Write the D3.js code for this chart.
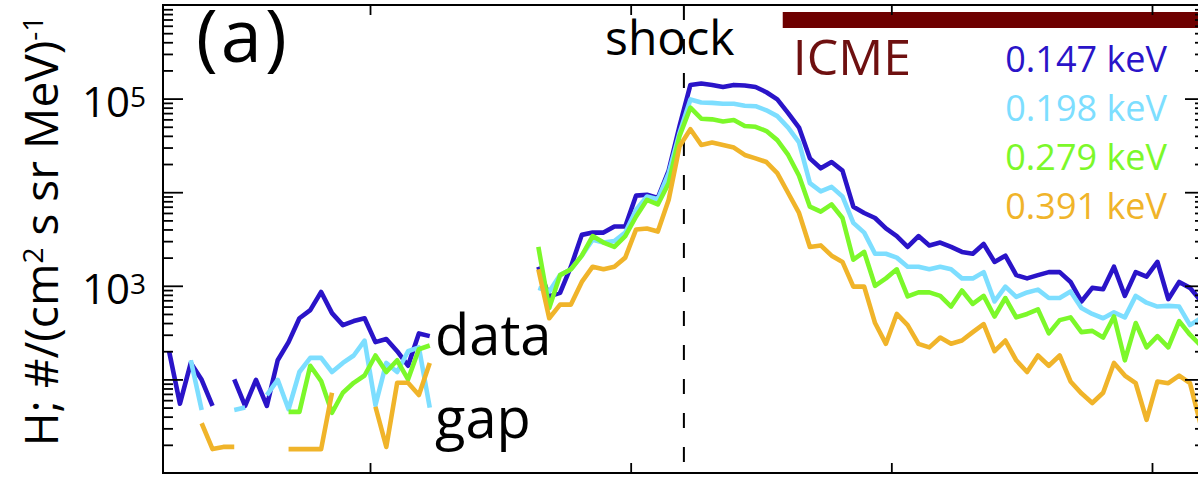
<!DOCTYPE html>
<html>
<head>
<meta charset="utf-8">
<script src="https://cdn.jsdelivr.net/npm/d3@7"></script>
<style>
  html, body { margin: 0; padding: 0; background: #fff; }
  svg { display: block; font-family: "Open Sans", "Noto Sans", sans-serif; }
</style>
</head>
<body>
<svg id="chart" width="1198" height="477"></svg>
<script>
// Hourly proton intensities, hour stamps counted from 00 UT of the first day
const hours = d3.range(5.5, 101, 1);   // 5.5 ... 100.5 (96 samples)

const flux147 = [200, 55, 150, 99, 52, null, 100, 52, 99, 52, 160, 250, 450, 550, 860, 510, 380, 420, 450, 250, 270, 200, 140, 310, 290,
  null, null, null, null, null, null, null, null, null,
  1600, 770, 840, 1600, 3500, 3700, 3700, 4300, 4300, 9200, 9400, 8700, 17000, 51000,
  140000, 145000, 140000, 133000, 140000, 138000, 133000, 117000, 98000, 70000, 49000, 23000, 18000, 21000, 17000,
  7000, 6000, 5300, 4100, 3400, 2600, 3400, 2700, 2900, 2600, 2300, 2200, 2800, 1800, 2100,
  1300, 1200, 1300, 1400, 1400, 1100, 680, 950, 920, 1600, 780, 1400, 1250, 1800, 720, 1100, 950, 690];

const flux198 = [null, null, 160, 47, null, null, 47, 50, null, 68, 99, 48, 120, 170, 170, 120, 150, 180, 260, 53, 150, 120, 200, 220, 50,
  null, null, null, null, null, null, null, null, null,
  950, 870, 1300, 1500, 2100, 3100, 2900, 3000, 3700, 6500, 9000, 8400, 16000, 43000,
  98000, 91000, 90000, 88000, 88000, 84000, 83000, 75000, 65000, 49000, 34000, 12500, 10200, 11400, 9000,
  4700, 3700, 2200, 2200, 2000, 1600, 1600, 1500, 1600, 1500, 1200, 1200, 1400, 680, 980,
  760, 850, 910, 740, 740, 870, 580, 500, 450, 520, 460, 780, 660, 600, 610, 600, 380, 450];

const flux279 = [null, null, null, null, null, null, null, null, null, null, null, 45, 45, 140, 96, 44, 72, 92, 110, 180, 120, 160, 100, 210, 230,
  null, null, null, null, null, null, null, null, null,
  2600, 580, 1300, 1500, 2100, 3400, 2900, 2600, 3400, 5500, 8300, 7400, 12500, 40000,
  80000, 61000, 60000, 57000, 59000, 51000, 50000, 45000, 36000, 25000, 15000, 7000, 6200, 7400, 5300,
  1900, 2300, 1000, 1200, 1500, 770, 850, 850, 780, 600, 890, 640, 780, 470, 740,
  460, 500, 560, 310, 430, 460, 320, 330, 280, 470, 160, 400, 220, 290, 220, 420, 300, 230];

const flux391 = [null, null, null, 34, 18, 19, 19, null, null, null, null, 18, 18, 18, 18, 72, null, null, null, 51, 19, 92, 92, 68, 150,
  null, null, null, null, null, null, null, null, null,
  1500, 450, 630, 630, 1100, 1600, 1500, 1600, 2000, 4000, 4100, 3800, 8300, 31000,
  47000, 32000, 34000, 32000, 30000, 25000, 23000, 21000, 16000, 9800, 6000, 2600, 2700, 2100, 1800,
  980, 980, 400, 240, 500, 380, 240, 220, 280, 240, 260, 320, 390, 200, 260,
  160, 120, 180, 140, 180, 95, 71, 56, 72, 150, 110, 91, 37, 95, 91, 110, 91, 32];

const channels = ["0.147 keV", "0.198 keV", "0.279 keV", "0.391 keV"];
const colors = ["#2a14c8", "#7ddeff", "#7cf82a", "#f0b42a"];
const seriesList = [flux147, flux198, flux279, flux391];

const shockHour = 52.9;
const icmeStartHour = 62.0;
const dayTicks = [24, 48, 72, 96];
const majorTicks = [1e2, 1e3, 1e4, 1e5];
const labelledTicks = [[1e3, "3"], [1e5, "5"]];
const minorTicks = [];
[10, 100, 1000, 10000, 100000].forEach(d => { for (let k = 2; k <= 9; k++) minorTicks.push(d * k); });

// ---- layout ----
const plotLeft = 163, plotRight = 1205, plotTop = 5, plotBottom = 473;
const svg = d3.select("#chart");

const x = d3.scaleLinear().domain([4.94, 100.88]).range([plotLeft, plotRight]);
const y = d3.scaleLog().domain([10, 1e6]).range([plotBottom, plotTop]);

svg.append("defs").append("clipPath").attr("id", "plotClip")
  .append("rect").attr("x", plotLeft).attr("y", plotTop)
  .attr("width", plotRight - plotLeft).attr("height", plotBottom - plotTop);

// ICME interval bar and label
svg.append("rect")
  .attr("x", x(icmeStartHour)).attr("y", 12)
  .attr("width", plotRight - x(icmeStartHour)).attr("height", 16)
  .attr("fill", "#6e0000");
svg.append("text").attr("x", x(icmeStartHour) + 10).attr("y", 75)
  .attr("font-size", 50).attr("fill", "#6e1010").text("ICME");

// shock time marker
svg.append("line")
  .attr("x1", x(shockHour)).attr("x2", x(shockHour))
  .attr("y1", plotTop).attr("y2", plotBottom)
  .attr("stroke", "#000").attr("stroke-width", 2)
  .attr("stroke-dasharray", "15,19");
svg.append("text").attr("x", 605).attr("y", 55)
  .attr("font-size", 48).attr("fill", "#000").text("shock");

// intensity traces
const line = d3.line()
  .defined(d => d[1] != null)
  .x(d => x(d[0]))
  .y(d => y(d[1]));

const traces = svg.append("g").attr("clip-path", "url(#plotClip)");
seriesList.forEach((s, i) => {
  traces.append("path")
    .datum(hours.map((h, j) => [h, s[j]]))
    .attr("fill", "none")
    .attr("stroke", colors[i])
    .attr("stroke-width", 4.6)
    .attr("stroke-linejoin", "round")
    .attr("d", line);
});

// axes: inward ticks on all four sides
function styleAxis(g) {
  g.select(".domain").remove();
  g.selectAll(".tick line").attr("stroke", "#000").attr("stroke-width", 1.8);
  g.selectAll(".tick text").remove();
}
svg.append("g").attr("transform", `translate(${plotLeft},0)`)
  .call(d3.axisLeft(y).tickValues(majorTicks).tickSize(-20)).call(styleAxis);
svg.append("g").attr("transform", `translate(${plotLeft},0)`)
  .call(d3.axisLeft(y).tickValues(minorTicks).tickSize(-10)).call(styleAxis);
svg.append("g").attr("transform", `translate(${plotRight},0)`)
  .call(d3.axisRight(y).tickValues(majorTicks).tickSize(-20)).call(styleAxis);
svg.append("g").attr("transform", `translate(${plotRight},0)`)
  .call(d3.axisRight(y).tickValues(minorTicks).tickSize(-10)).call(styleAxis);
svg.append("g").attr("transform", `translate(0,${plotBottom})`)
  .call(d3.axisBottom(x).tickValues(dayTicks).tickSize(-10)).call(styleAxis);
svg.append("g").attr("transform", `translate(0,${plotTop})`)
  .call(d3.axisTop(x).tickValues(dayTicks).tickSize(-10)).call(styleAxis);

// frame
svg.append("rect")
  .attr("x", plotLeft).attr("y", plotTop)
  .attr("width", plotRight - plotLeft).attr("height", plotBottom - plotTop)
  .attr("fill", "none").attr("stroke", "#000").attr("stroke-width", 2);

// power-of-ten tick labels
labelledTicks.forEach(([v, p]) => {
  const t = svg.append("text").attr("x", 82).attr("y", y(v) + 18)
    .attr("font-size", 42).attr("fill", "#000");
  t.append("tspan").text("10");
  t.append("tspan").attr("dy", -10).attr("font-size", 28).text(p);
});

// y-axis title
const yt = svg.append("text")
  .attr("transform", "translate(58,231) rotate(-90)")
  .attr("text-anchor", "middle").attr("font-size", 46).attr("fill", "#000");
yt.append("tspan").text("H; #/(cm");
yt.append("tspan").attr("dy", -15).attr("font-size", 28).text("2");
yt.append("tspan").attr("dy", 15).text(" s sr MeV)");
yt.append("tspan").attr("dy", -15).attr("font-size", 28).text("-1");

// panel letter
svg.append("text").attr("x", 196).attr("y", 62)
  .attr("font-size", 74).attr("letter-spacing", 3).attr("fill", "#000").text("(a)");

// data gap annotation
svg.append("text").attr("x", 435).attr("y", 355).attr("font-size", 56).attr("fill", "#000").text("data");
svg.append("text").attr("x", 435).attr("y", 438).attr("font-size", 56).attr("fill", "#000").text("gap");

// energy channel legend
channels.forEach((c, i) => {
  svg.append("text").attr("x", 1167).attr("y", 72 + i * 49)
    .attr("text-anchor", "end").attr("font-size", 36)
    .attr("fill", colors[i]).text(c);
});
</script>
</body>
</html>
